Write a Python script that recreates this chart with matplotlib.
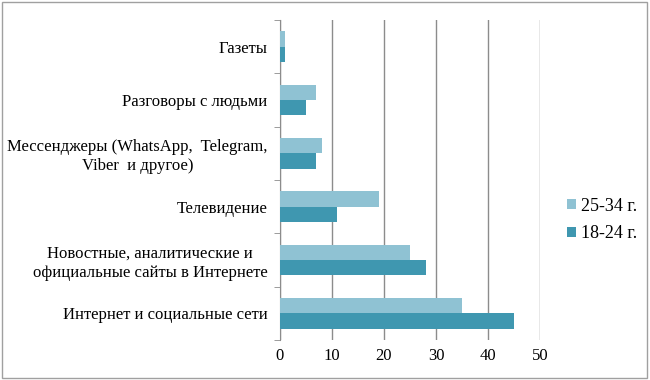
import matplotlib.pyplot as plt
from matplotlib.patches import Rectangle
import numpy as np

categories = ["Интернет и социальные сети",
              "Новостные, аналитические и\nофициальные сайты в Интернете",
              "Телевидение",
              "Мессенджеры (WhatsApp,  Telegram,\nViber  и другое)",
              "Разговоры с людьми",
              "Газеты"]
age_18_24 = [45, 28, 11, 7, 5, 1]
age_25_34 = [35, 25, 19, 8, 7, 1]
xticks = [0, 10, 20, 30, 40, 50]

plt.rcParams['font.family'] = ['Liberation Serif', 'DejaVu Serif']

fig = plt.figure(figsize=(6.5, 3.8), dpi=100)
ax = fig.add_axes([280 / 650, 40 / 380, 260 / 650, 320 / 380])

y = np.arange(len(categories))
h = 0.29
ax.barh(y - h / 2, age_18_24, height=h, color="#3f97b0", label="18-24 г.", zorder=3)
ax.barh(y + h / 2, age_25_34, height=h, color="#8fc2d3", label="25-34 г.", zorder=3)

ax.set_xlim(0, 50)
ax.set_ylim(-0.5, len(categories) - 0.5)
ax.set_xticks(xticks)
ax.set_xticklabels([str(v) for v in xticks], fontsize=12)
ax.tick_params(axis='x', length=0, pad=6)
ax.xaxis.grid(True, color="#8c8c8c", linewidth=1, zorder=0)

ax.set_yticks(y)
ax.set_yticklabels(categories, fontsize=12, linespacing=1.25)
ax.tick_params(axis='y', which='major', length=0, pad=9)
ax.set_yticks(np.arange(-0.5, len(categories), 1), minor=True)
ax.tick_params(axis='y', which='minor', length=4, color="#8c8c8c")
for lbl in ax.get_yticklabels():
    lbl.set_horizontalalignment('right')
    lbl.set_multialignment('center')

for s in ['top', 'right', 'bottom']:
    ax.spines[s].set_visible(False)
ax.spines['left'].set_color("#8c8c8c")

handles, labels = ax.get_legend_handles_labels()
ax.legend(handles[::-1], labels[::-1], loc='center left', bbox_to_anchor=(1.04, 0.375),
          frameon=False, fontsize=13, handlelength=0.5, handleheight=0.5,
          handletextpad=0.3, labelspacing=0.6)

fig.patches.append(Rectangle((0.003, 0.004), 0.993, 0.99, transform=fig.transFigure,
                             fill=False, edgecolor="#a0a0a0", linewidth=1))

fig.savefig("out.png", dpi=100)
